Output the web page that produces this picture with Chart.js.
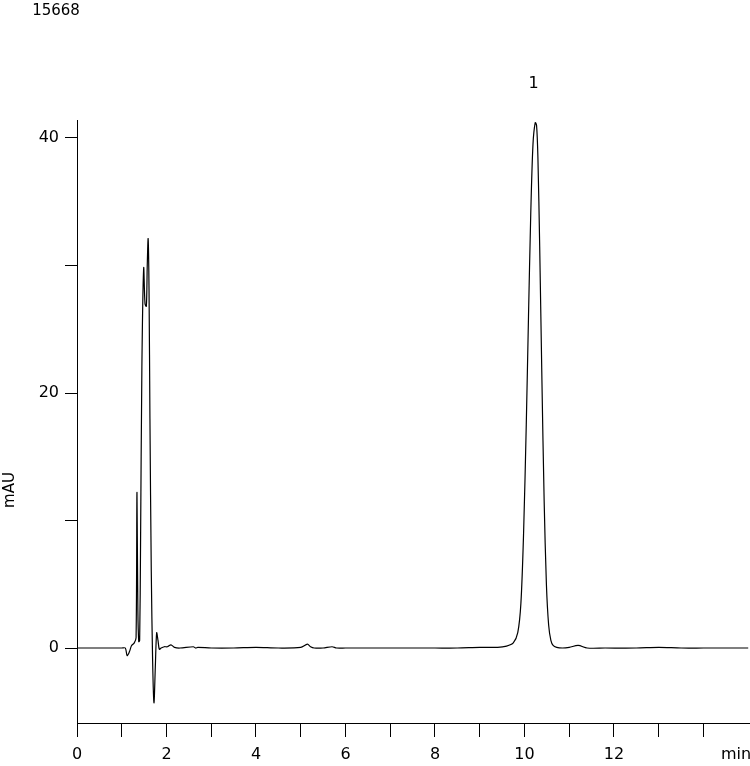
<!DOCTYPE html>
<html><head><meta charset="utf-8">
<script src="https://cdn.jsdelivr.net/npm/chart.js@4"></script>
<style>html,body{margin:0;padding:0;background:#fff}#w{position:relative;width:750px;height:766px}</style>
</head><body><div id="w"><canvas id="c" width="750" height="766"></canvas></div>
<script>
const times = [0,0.5,1.0,1.08,1.12,1.17,1.22,1.28,1.32,1.34,1.36,1.38,1.40,1.42,1.45,1.49,1.52,1.55,1.57,1.59,1.61,1.63,1.66,1.69,1.72,1.75,1.78,1.81,1.84,1.88,1.95,2.02,2.1,2.18,2.3,2.6,2.65,2.7,3.0,3.5,4.0,4.5,5.0,5.15,5.22,5.3,5.5,5.7,5.8,6.0,6.5,7.0,7.5,8.0,8.5,9.0,9.4,9.6,9.75,9.85,9.92,9.98,10.04,10.09,10.14,10.19,10.24,10.27,10.30,10.34,10.39,10.44,10.49,10.54,10.59,10.64,10.72,10.85,11.0,11.2,11.4,11.8,12.5,13.0,13.5,14.0,14.5,15.0];
const mAU   = [0,0,0,0,-0.6,-0.3,0.2,0.4,0.8,12.2,3.0,0.5,0.6,8.0,22.0,29.8,27.0,26.8,30.0,32.1,28.0,18.0,6.0,-1.0,-4.3,-1.5,1.2,0.6,-0.1,0.0,0.1,0.1,0.25,0.05,0.0,0.1,0.0,0.05,0.0,0.0,0.05,0.0,0.05,0.3,0.1,0.0,0.0,0.1,0.0,0.0,0.0,0.0,0.0,0.0,0.0,0.05,0.05,0.15,0.4,1.2,3.5,9.0,17.5,26.0,34.0,39.5,41.2,41.0,38.5,31.5,21.0,11.5,5.0,1.8,0.6,0.2,0.05,0.0,0.05,0.2,0.0,0.0,0.0,0.05,0.0,0.0,0.0,0.0];
const xTickLabels = {0:"0",2:"2",4:"4",6:"6",8:"8",10:"10",12:"12"};
const xUnit = "min";
const yTickLabels = {0:"0",20:"20",40:"40"};
const peakLabel = "1", peakTime = 10.25;
const runId = "15668";

const pts = times.map((t,i)=>({x:t,y:mAU[i]}));
const font = {family:"DejaVu Sans", size:16};
const annot = {
  id:'annot',
  afterDraw(ch){
    const c=ch.ctx; c.save(); c.fillStyle='#000'; c.font='15px "DejaVu Sans"';
    c.textAlign='center'; c.textBaseline='middle';
    c.fillText(runId,56,11);
    c.font='16px "DejaVu Sans"';
    c.fillText(peakLabel, ch.scales.x.getPixelForValue(peakTime)-2, 84);
    c.fillText(xUnit, 736, 755);
    c.translate(10,490); c.rotate(-Math.PI/2); c.font='15px "DejaVu Sans"'; c.fillText("mAU",0,0);
    c.restore();
  }
};
new Chart(document.getElementById('c'),{
  type:'line',
  data:{datasets:[{data:pts,borderColor:'#000',borderWidth:1.2,pointRadius:0,tension:0.3,fill:false}]},
  options:{
    responsive:false,animation:false,
    layout:{padding:{top:120,right:0,left:0,bottom:0}},
    plugins:{legend:{display:false},tooltip:{enabled:false}},
    scales:{
      x:{type:'linear',min:0,max:15.04,
        afterFit(s){s.height=43;},
        afterBuildTicks(s){s.ticks=[];for(let i=0;i<=14;i++)s.ticks.push({value:i});},
        grid:{drawOnChartArea:false,tickLength:14,color:'#000'},
        border:{color:'#000',width:1},
        ticks:{color:'#000',font,padding:8,maxRotation:0,autoSkip:false,callback:v=>xTickLabels[v]??''}},
      y:{min:-5.88,max:41.41,
        afterFit(s){s.width=77;},
        afterBuildTicks(s){s.ticks=[0,10,20,30,40].map(v=>({value:v}));},
        grid:{drawOnChartArea:false,tickLength:12,color:'#000'},
        border:{color:'#000',width:1},
        ticks:{color:'#000',font,padding:6,callback:v=>yTickLabels[v]??''}}
    }
  },
  plugins:[annot]
});
</script></body></html>
